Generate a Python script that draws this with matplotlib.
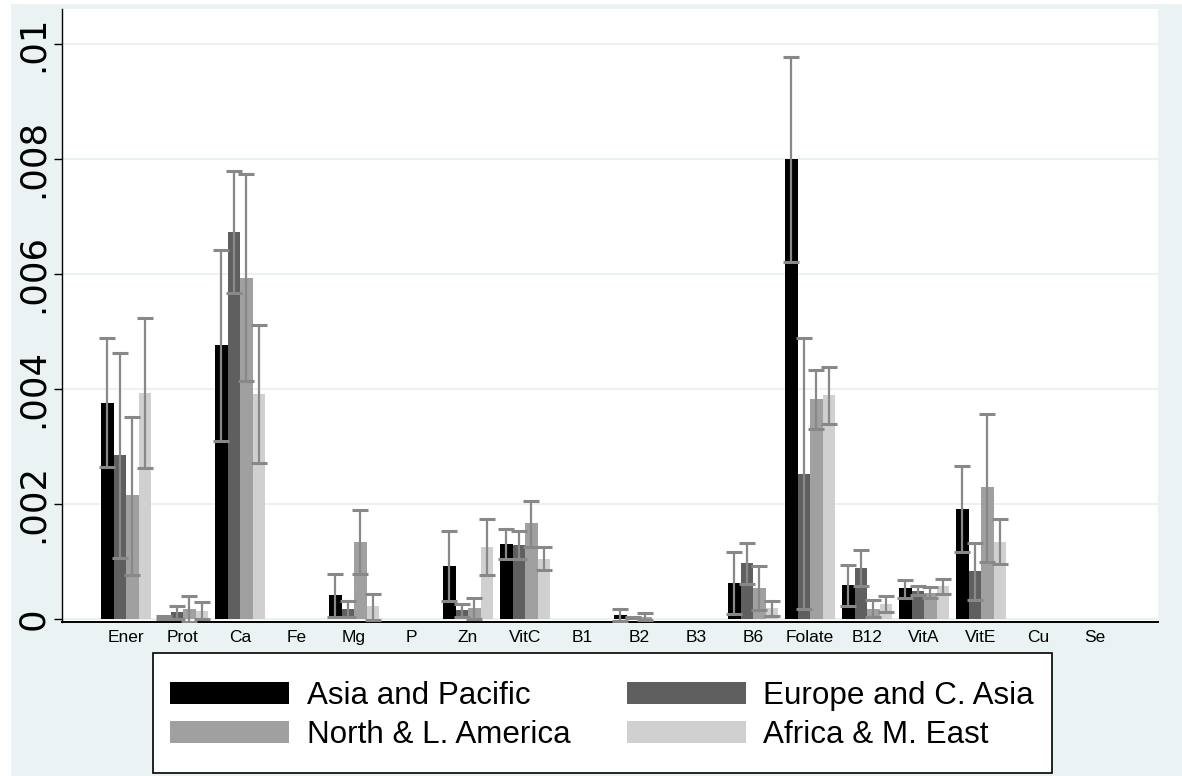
import numpy as np
import matplotlib
matplotlib.use("Agg")
import matplotlib.pyplot as plt
from matplotlib.patches import Rectangle

plt.rcParams['font.family'] = ['Liberation Sans', 'DejaVu Sans']

nutrients = ["Ener", "Prot", "Ca", "Fe", "Mg", "P", "Zn", "VitC", "B1", "B2",
             "B3", "B6", "Folate", "B12", "VitA", "VitE", "Cu", "Se"]
regions = ["Asia and Pacific", "Europe and C. Asia",
           "North & L. America", "Africa & M. East"]
nan = np.nan

# point estimates per region
asia_mean = [0.00375, 0.00002, 0.00476, 0, 0.00041, 0, 0.00092, 0.00130, 0, 0.00006,
             0, 0.00062, 0.00799, 0.00058, 0.00053, 0.00191, 0, 0]
europe_mean = [0.00285, 0.00011, 0.00672, 0, 0.00017, 0, 0.00014, 0.00128, 0, 0.00002,
               0, 0.00096, 0.00251, 0.00088, 0.00048, 0.00083, 0, 0]
namer_mean = [0.00214, 0.00017, 0.00593, 0, 0.00133, 0, 0.00018, 0.00166, 0, 0.00003,
              0, 0.00053, 0.00381, 0.00017, 0.00045, 0.00228, 0, 0]
africa_mean = [0.00392, 0.00013, 0.00390, 0, 0.00021, 0, 0.00124, 0.00104, 0, 0,
               0, 0.00018, 0.00388, 0.00026, 0.00057, 0.00133, 0, 0]

# confidence interval bounds per region
asia_lo = [0.00264, 0.00000, 0.00309, nan, 0.00002, nan, 0.00031, 0.00104, nan, -0.00005,
           nan, 0.00008, 0.00620, 0.00022, 0.00036, 0.00116, nan, nan]
asia_hi = [0.00487, 0.00004, 0.00641, nan, 0.00078, nan, 0.00152, 0.00155, nan, 0.00017,
           nan, 0.00115, 0.00976, 0.00093, 0.00067, 0.00265, nan, nan]
europe_lo = [0.00106, -0.00001, 0.00566, nan, 0.00002, nan, 0.00002, 0.00103, nan, 0.00001,
             nan, 0.00060, 0.00016, 0.00056, 0.00041, 0.00033, nan, nan]
europe_hi = [0.00462, 0.00021, 0.00779, nan, 0.00031, nan, 0.00026, 0.00152, nan, 0.00003,
             nan, 0.00132, 0.00487, 0.00119, 0.00057, 0.00132, nan, nan]
namer_lo = [0.00076, -0.00006, 0.00413, nan, 0.00078, nan, 0.00000, 0.00125, nan, -0.00002,
            nan, 0.00014, 0.00329, 0.00003, 0.00036, 0.00098, nan, nan]
namer_hi = [0.00351, 0.00040, 0.00773, nan, 0.00189, nan, 0.00035, 0.00205, nan, 0.00009,
            nan, 0.00091, 0.00433, 0.00033, 0.00055, 0.00356, nan, nan]
africa_lo = [0.00262, -0.00001, 0.00270, nan, -0.00003, nan, 0.00075, 0.00084, nan, nan,
             nan, 0.00005, 0.00338, 0.00011, 0.00042, 0.00094, nan, nan]
africa_hi = [0.00522, 0.00028, 0.00510, nan, 0.00043, nan, 0.00173, 0.00125, nan, nan,
             nan, 0.00030, 0.00437, 0.00040, 0.00069, 0.00173, nan, nan]

yticks = [0, 0.002, 0.004, 0.006, 0.008, 0.01]
ytick_labels = ["0", ".002", ".004", ".006", ".008", ".01"]

means = [asia_mean, europe_mean, namer_mean, africa_mean]
lows = [asia_lo, europe_lo, namer_lo, africa_lo]
highs = [asia_hi, europe_hi, namer_hi, africa_hi]
colors = ["#000000", "#5f5f5f", "#a0a0a0", "#d0d0d0"]
bg = "#eaf2f3"

W, H = 1182, 776


def fx(px):
    return px / W


def fy(py):
    return (H - py) / H


fig = plt.figure(figsize=(W / 100, H / 100), dpi=100)
fig.patch.set_facecolor("white")
fig.patches.append(Rectangle((fx(11), 0), 1 - fx(11), fy(4),
                             transform=fig.transFigure, facecolor=bg,
                             edgecolor="none", zorder=-10))

ax = fig.add_axes([fx(62), fy(622), fx(1158) - fx(62), fy(9) - fy(622)])
ax.set_facecolor("white")

x = np.arange(len(nutrients))
bw = 12.5 / 57
offsets = (np.arange(4) - 1.5) * bw

bars = []
for k in range(4):
    b = ax.bar(x + offsets[k], means[k], width=bw, color=colors[k],
               edgecolor="none", zorder=2, label=regions[k])
    bars.append(b)

for k in range(4):
    m = np.array(means[k], dtype=float)
    lo = np.array(lows[k], dtype=float)
    hi = np.array(highs[k], dtype=float)
    ok = ~np.isnan(lo)
    ax.errorbar(x[ok] + offsets[k], m[ok], yerr=[m[ok] - lo[ok], hi[ok] - m[ok]],
                fmt="none", ecolor="#888888", elinewidth=1.6, capsize=5.6,
                capthick=2.2, zorder=3)

ax.set_xlim(-64 / 57, (1158 - 126) / 57)
ax.set_ylim((618.5 - 622) / 57500, (618.5 - 9) / 57500)

ax.set_yticks(yticks)
ax.set_yticklabels(ytick_labels, rotation=90, va="center", fontsize=25.5,
                   fontfamily="DejaVu Sans")
ax.tick_params(axis="y", length=6, width=1, color="black", pad=2.5)
ax.set_xticks(x)
ax.set_xticklabels(nutrients, fontsize=12.5)
ax.tick_params(axis="x", length=0, pad=6)

ax.yaxis.grid(True, color=bg, linewidth=1.5, zorder=0)
ax.set_axisbelow(True)
for s in ["top", "right"]:
    ax.spines[s].set_visible(False)
ax.spines["left"].set_linewidth(1.0)
ax.spines["bottom"].set_linewidth(1.4)

# legend box
fig.patches.append(Rectangle((fx(153), fy(773)), fx(1052) - fx(153), fy(653) - fy(773),
                             transform=fig.transFigure, facecolor="white",
                             edgecolor="black", linewidth=1.2, zorder=1))

# legend entries ordered row by row: two per row
order = [0, 2, 1, 3]
leg = fig.legend(handles=[bars[i] for i in order],
                 labels=[regions[i] for i in order], ncol=2, loc="upper left",
                 bbox_to_anchor=(fx(170), fy(681)),
                 fontsize=22.6, frameon=False,
                 handlelength=3.8, handleheight=0.7, handletextpad=0.55,
                 columnspacing=1.8, labelspacing=0.3, borderpad=0,
                 borderaxespad=0)
leg.set_zorder(2)

fig.savefig("out.png", dpi=100, facecolor=fig.get_facecolor())
